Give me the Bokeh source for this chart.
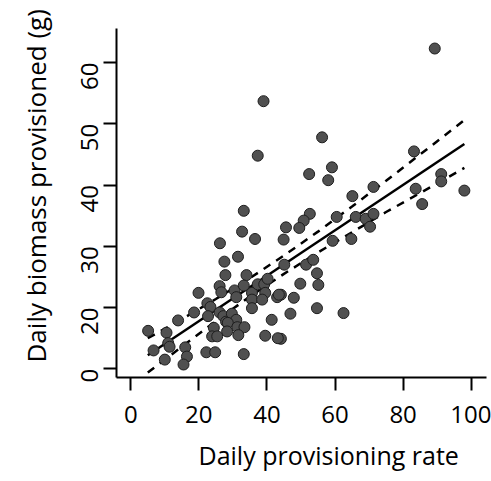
import math
from bokeh.plotting import figure
from bokeh.models import Range1d, FixedTicker, ColumnDataSource, Title
from bokeh.embed import file_html
from bokeh.resources import INLINE

# Data (x: daily provisioning rate, y: daily biomass provisioned)
rate = [39.0, 37.3, 89.3, 56.2, 59.1, 52.4, 58.0, 83.2, 91.2, 91.2,
        71.3, 83.7, 98.0, 65.1, 85.6, 52.6, 50.8, 45.6, 49.5, 44.9,
        60.5, 66.1, 69.0, 71.3, 70.3, 59.3, 64.8, 45.1, 51.5, 53.6,
        54.7, 49.8, 55.1, 44.1, 47.9, 46.9, 54.7, 62.5, 44.1, 33.2,
        32.7, 36.5, 26.2, 31.5, 27.5, 27.8, 34.0, 26.1, 26.6, 19.9,
        30.5, 33.2, 31.0, 35.6, 37.3, 39.2, 39.5, 35.6, 38.6, 43.0,
        43.5, 35.6, 22.5, 23.4, 18.6, 22.7, 26.1, 27.2, 28.0, 29.7,
        31.0, 28.5, 31.3, 28.3, 33.4, 31.6, 24.4, 23.9, 25.4, 13.9,
        5.1, 10.5, 11.0, 11.4, 6.7, 16.0, 10.0, 16.5, 15.5, 22.2,
        24.8, 33.2, 39.5, 43.2, 41.4, 40.2]
biomass = [53.7, 44.8, 62.3, 47.8, 42.9, 41.8, 40.8, 45.5, 41.8, 40.6,
           39.7, 39.4, 39.1, 38.2, 36.9, 35.3, 34.2, 33.1, 33.0, 31.1,
           34.8, 34.8, 34.5, 35.3, 33.2, 30.9, 31.2, 27.0, 27.0, 27.8,
           25.6, 23.9, 23.7, 22.1, 21.6, 19.0, 19.9, 19.1, 14.9, 35.8,
           32.4, 31.2, 30.5, 28.3, 27.5, 25.3, 25.3, 23.5, 22.5, 22.4,
           22.8, 23.6, 21.7, 22.4, 23.8, 23.8, 22.4, 21.3, 21.3, 21.7,
           22.1, 19.9, 20.7, 20.1, 19.2, 18.6, 19.2, 18.6, 17.7, 19.0,
           18.0, 17.5, 16.8, 16.1, 16.8, 15.5, 16.7, 15.3, 15.3, 17.9,
           16.2, 15.9, 14.2, 13.6, 13.0, 13.5, 11.5, 12.0, 10.7, 12.7,
           12.7, 12.4, 15.4, 15.0, 18.0, 24.7]

# Fitted line and confidence band, read at several x positions
fit_x = [5, 15, 25, 35, 45, 55, 65, 75, 85, 98]
fit_y = [12.2, 15.9, 19.6, 23.3, 27.0, 30.7, 34.4, 38.1, 41.8, 46.7]
upper_y = [15.0, 18.1, 21.4, 24.8, 28.5, 32.4, 36.5, 40.7, 45.0, 50.6]
lower_y = [9.4, 13.6, 17.8, 21.8, 25.5, 29.0, 32.3, 35.6, 38.7, 42.8]

x_ticks = [0, 20, 40, 60, 80, 100]
y_ticks = [10, 20, 30, 40, 50, 60]
y_tick_labels = {10: "0", 20: "20", 30: "30", 40: "40", 50: "50", 60: "60"}

x_title = "Daily provisioning rate"
y_title = "Daily biomass provisioned (g)"

FONT = "Open Sans"

p = figure(width=491, height=481, output_backend="svg", toolbar_location=None,
           x_range=Range1d(-4.19, 104.5), y_range=Range1d(8.58, 65.57),
           min_border_left=115, min_border_right=5, min_border_top=28,
           min_border_bottom=103)
p.outline_line_color = None
p.grid.visible = False
p.background_fill_color = "white"
p.border_fill_color = "white"

for ax in (p.xaxis[0], p.yaxis[0]):
    ax.axis_line_width = 2
    ax.axis_line_color = "black"
    ax.major_tick_line_width = 2
    ax.major_tick_line_color = "black"
    ax.major_tick_in = 0
    ax.major_tick_out = 13
    ax.minor_tick_line_color = None
    ax.major_label_text_font = FONT
    ax.major_label_text_font_size = "24px"
    ax.major_label_text_color = "black"

p.xaxis.ticker = FixedTicker(ticks=x_ticks)
p.yaxis.ticker = FixedTicker(ticks=y_ticks)
p.yaxis.major_label_overrides = y_tick_labels
p.yaxis.major_label_orientation = math.pi / 2
p.xaxis.major_label_standoff = 15
p.yaxis.major_label_standoff = 14


def side_title(text, offset, size, gap):
    t = Title(text=text, align="left", offset=offset, text_font=FONT,
              text_font_size=size, text_font_style="normal", text_color="black")
    if "standoff" in Title.properties():
        t.standoff = gap
    return t


# Axis titles are offset from the frame centre in the reference
p.add_layout(side_title(x_title, 82, "25px", 20), "below")
p.add_layout(side_title(y_title, 15, "26px", 31), "left")

p.line(fit_x, upper_y, line_color="black", line_width=2.5, line_dash="8 7")
p.line(fit_x, lower_y, line_color="black", line_width=2.5, line_dash="8 7")
p.line([fit_x[0], fit_x[-1]], [fit_y[0], fit_y[-1]], line_color="black", line_width=2.5)

src = ColumnDataSource(dict(x=rate, y=biomass))
p.scatter("x", "y", source=src, size=11, fill_color="#505050",
          line_color="#1e1e1e", line_width=1)

open("out.html", "w").write(file_html(p, INLINE))
